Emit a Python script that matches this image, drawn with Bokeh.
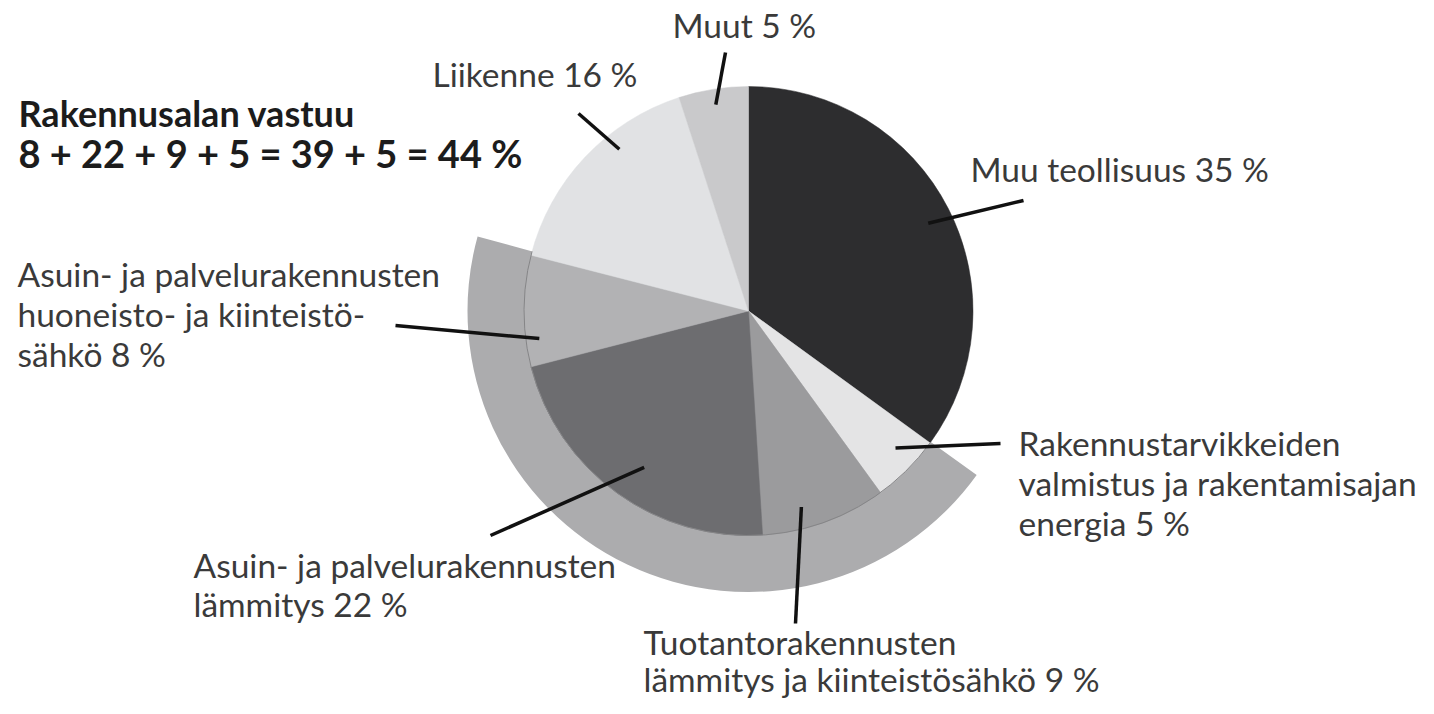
import numpy as np
from bokeh.plotting import figure
from bokeh.models import Range1d
from bokeh.core.properties import value
from bokeh.embed import file_html
from bokeh.resources import INLINE

# ---------------- data ----------------
categories = [
    "Muu teollisuus",
    "Rakennustarvikkeiden valmistus ja rakentamisajan energia",
    "Tuotantorakennusten lämmitys ja kiinteistösähkö",
    "Asuin- ja palvelurakennusten lämmitys",
    "Asuin- ja palvelurakennusten huoneisto- ja kiinteistösähkö",
    "Liikenne",
    "Muut",
]
shares = [35, 5, 9, 22, 8, 16, 5]
construction = [False, True, True, True, True, False, False]
label_lines = [
    ["Muu teollisuus 35 %"],
    ["Rakennustarvikkeiden", "valmistus ja rakentamisajan", "energia 5 %"],
    ["Tuotantorakennusten", "lämmitys ja kiinteistösähkö 9 %"],
    ["Asuin- ja palvelurakennusten", "lämmitys 22 %"],
    ["Asuin- ja palvelurakennusten", "huoneisto- ja kiinteistö-", "sähkö 8 %"],
    ["Liikenne 16 %"],
    ["Muut 5 %"],
]
title_lines = ["Rakennusalan vastuu", "8 + 22 + 9 + 5 = 39 + 5 = 44 %"]

# ---------------- style / layout ----------------
colors = ["#2d2d2f", "#e4e4e5", "#9b9b9d", "#6d6d70", "#b2b2b4", "#e1e2e4", "#c9c9cb"]
ring_color = "#acacae"
W, H = 1418, 698
PAGE_H = 714
FONT = "Lato"
FSIZE = 33.5
TXT = "#3a3a3a"
BASE_FIX = 0.4  # em; bokeh's alphabetic baseline sits lower than requested

cx, cy_px = 748, 310.5
R = 224.5
R_RING = 281
ring_pad = (0.3, 1.0)

# label layout in picture pixels: (text x, first baseline, line step, leader outer end, leader angle offset, leader radius)
label_layout = [
    (970, 182, 40, (1023, 200), 1.0, 200),
    (1018, 456, 40, (1000, 443), -2.0, 201),
    (643, 655, 37, (795, 623), 4.7, 203),
    (193, 578, 39, (490, 535), -2.3, 188),
    (17, 287, 40, (395, 325), -7.5, 211),
    (432, 87, 40, (578, 113), 8.2, 207),
    (672, 38, 40, (725, 52), 0.0, 209),
]
title_layout = [(18, 127, 36), (18, 168, 38)]


def Y(y):
    return PAGE_H - y


p = figure(width=W, height=H, output_backend="svg", toolbar_location=None,
           x_range=Range1d(0, W), y_range=Range1d(PAGE_H - H, PAGE_H),
           min_border=0, outline_line_color=None, background_fill_color="white")
p.axis.visible = False
p.grid.visible = False

total = float(sum(shares))
cum = np.concatenate([[0.0], np.cumsum(shares)]) / total * 360.0  # clockwise from top, degrees
cy = Y(cy_px)

# ring behind the construction sector slices
idx = [i for i, c in enumerate(construction) if c]
r0 = cum[idx[0]] - ring_pad[0]
r1 = cum[idx[-1] + 1] + ring_pad[1]
p.wedge(x=cx, y=cy, radius=R_RING, start_angle=np.radians(90 - r0), end_angle=np.radians(90 - r1),
        direction="clock", fill_color=ring_color, line_color=None)

# pie slices
starts = np.radians(90 - cum[:-1])
ends = np.radians(90 - cum[1:])
p.wedge(x=[cx] * len(shares), y=[cy] * len(shares), radius=R, start_angle=starts, end_angle=ends,
        direction="clock", fill_color=colors, line_color=colors, line_width=0.5)

# thin outline of the pie over the ring
p.arc(x=cx, y=cy, radius=R, start_angle=np.radians(90 - r0), end_angle=np.radians(90 - r1),
      direction="clock", line_color="#858587", line_width=1)

# leader lines
mids = (cum[:-1] + cum[1:]) / 2.0
xs, ys = [], []
for i, (tx, ty, step, outer, off, rr) in enumerate(label_layout):
    a = np.radians(mids[i] + off)
    ix = cx + rr * np.sin(a)
    iy = cy + rr * np.cos(a)
    xs.append([outer[0], ix])
    ys.append([Y(outer[1]), iy])
p.multi_line(xs=xs, ys=ys, line_color="#111111", line_width=3.5)

# labels
for i, (tx, ty, step, outer, off, rr) in enumerate(label_layout):
    lines = label_lines[i]
    p.text(x=[tx] * len(lines),
           y=[Y(ty + k * step - BASE_FIX * FSIZE) for k in range(len(lines))], text=lines,
           text_font=value(FONT), text_font_size=f"{FSIZE}px", text_color=TXT,
           text_baseline="alphabetic", text_align="left")

for line, (tx, ty, fs) in zip(title_lines, title_layout):
    p.text(x=[tx], y=[Y(ty - BASE_FIX * fs)], text=[line],
           text_font=value(FONT), text_font_size=f"{fs}px", text_font_style="bold", text_color="#1c1c1c",
           text_baseline="alphabetic", text_align="left")

open("out.html", "w").write(file_html(p, INLINE))
